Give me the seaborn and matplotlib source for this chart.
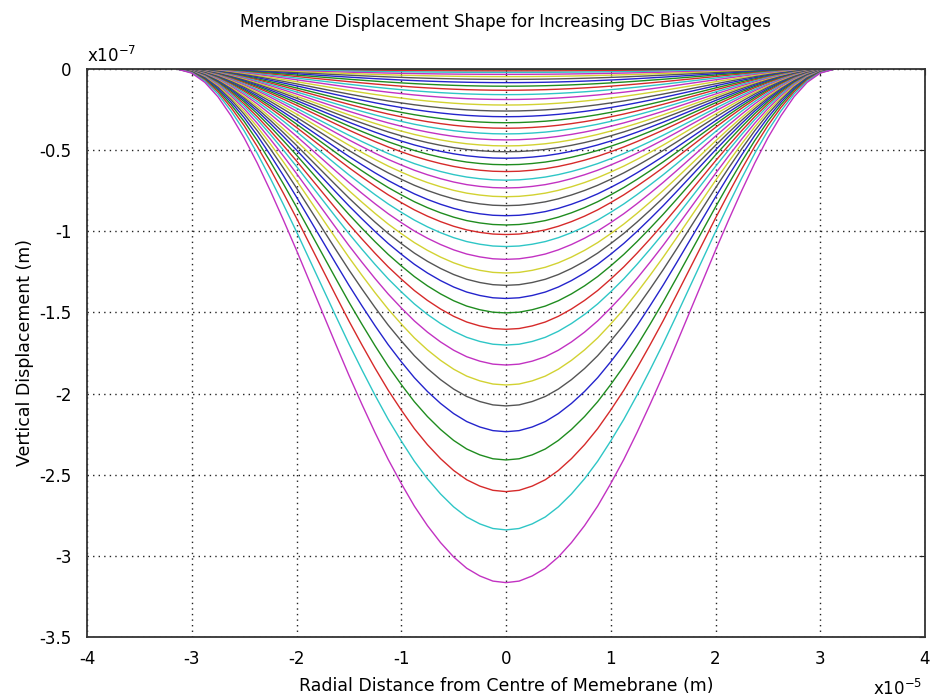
import numpy as np
import pandas as pd
import matplotlib
matplotlib.use("Agg")
import matplotlib.pyplot as plt
import seaborn as sns

# centre displacement of each curve (x1e-7 m), smallest bias first
depths = [0.001, 0.005, 0.012, 0.021, 0.033, 0.047, 0.064, 0.084, 0.106, 0.131,
          0.158, 0.188, 0.222, 0.259, 0.294, 0.331, 0.365, 0.400, 0.437, 0.474,
          0.510, 0.550, 0.590, 0.632, 0.685, 0.733, 0.787, 0.842, 0.904, 0.961,
          1.020, 1.094, 1.173, 1.257, 1.333, 1.414, 1.503, 1.604, 1.701, 1.824,
          1.947, 2.076, 2.235, 2.409, 2.604, 2.840, 3.165]

# normalised membrane shape (r in x1e-5 m, r >= 0)
r_half = [0.0, 0.125, 0.25, 0.375, 0.5, 0.625, 0.75, 0.875, 1.0, 1.125, 1.25,
          1.375, 1.5, 1.625, 1.75, 1.875, 2.0, 2.125, 2.25, 2.375, 2.5, 2.625,
          2.75, 2.875, 3.0, 3.14]
shape_half = [1.000, 0.997, 0.987, 0.972, 0.950, 0.922, 0.889, 0.851, 0.807,
              0.760, 0.708, 0.653, 0.596, 0.536, 0.475, 0.414, 0.353, 0.294,
              0.237, 0.183, 0.134, 0.091, 0.054, 0.026, 0.008, 0.000]

x_ticks = [-4, -3, -2, -1, 0, 1, 2, 3, 4]
y_ticks = [-3.5, -3, -2.5, -2, -1.5, -1, -0.5, 0]
x_ticklabels = ["-4", "-3", "-2", "-1", "0", "1", "2", "3", "4"]
y_ticklabels = ["-3.5", "-3", "-2.5", "-2", "-1.5", "-1", "-0.5", "0"]

# old MATLAB line colour order b g r c m y k
line_colors = ["#2424cc", "#1f8c1f", "#d62a2a", "#2ec6c6", "#c232c2", "#d2d232", "#555555"]

r_full = np.concatenate([-np.array(r_half[:0:-1]), np.array(r_half)])
s_full = np.concatenate([np.array(shape_half[:0:-1]), np.array(shape_half)])

rows = []
for i, d in enumerate(depths):
    for r, s in zip(r_full, s_full):
        rows.append({"curve": i, "r": r, "w": -d * s})
df = pd.DataFrame(rows)

palette = [line_colors[i % len(line_colors)] for i in range(len(depths))]

sns.set_style("white")
plt.rcParams["font.family"] = ["DejaVu Sans"]
plt.rcParams["text.color"] = "black"
plt.rcParams["axes.labelcolor"] = "black"
plt.rcParams["xtick.color"] = "black"
plt.rcParams["ytick.color"] = "black"

fig = plt.figure(figsize=(9.41, 7.0), dpi=100)
fig.patch.set_facecolor("white")
ax = fig.add_axes([87 / 941, 1 - 637 / 700, 838 / 941, 568 / 700])

sns.lineplot(data=df, x="r", y="w", hue="curve", palette=palette, estimator=None,
             sort=False, legend=False, linewidth=1.0, ax=ax)

ax.set_xlim(-4, 4)
ax.set_ylim(-3.5, 0)
ax.set_xticks(x_ticks)
ax.set_yticks(y_ticks)
ax.set_xticklabels(x_ticklabels, fontsize=12)
ax.set_yticklabels(y_ticklabels, fontsize=12)
ax.tick_params(direction="in", top=True, right=True, length=4, color="#222222")
ax.tick_params(axis="x", pad=9)
ax.tick_params(axis="y", pad=11)
ax.grid(True, color="#222222", linestyle=(0, (1, 3)), linewidth=1.0)
ax.set_axisbelow(True)
for sp in ax.spines.values():
    sp.set_color("#333333")
    sp.set_linewidth(1.3)

ax.set_xlabel("Radial Distance from Centre of Memebrane (m)", fontsize=12.5, labelpad=7)
ax.set_ylabel("Vertical Displacement (m)", fontsize=12.5, labelpad=4)
ax.set_title("Membrane Displacement Shape for Increasing DC Bias Voltages", fontsize=12, pad=30)

fig.text(87 / 941, 1 - 66 / 700, r"x10$^{-7}$", fontsize=12, ha="left", va="bottom")
fig.text(922 / 941, 1 - 699 / 700, r"x10$^{-5}$", fontsize=12, ha="right", va="bottom")

fig.savefig("out.png", dpi=100)
